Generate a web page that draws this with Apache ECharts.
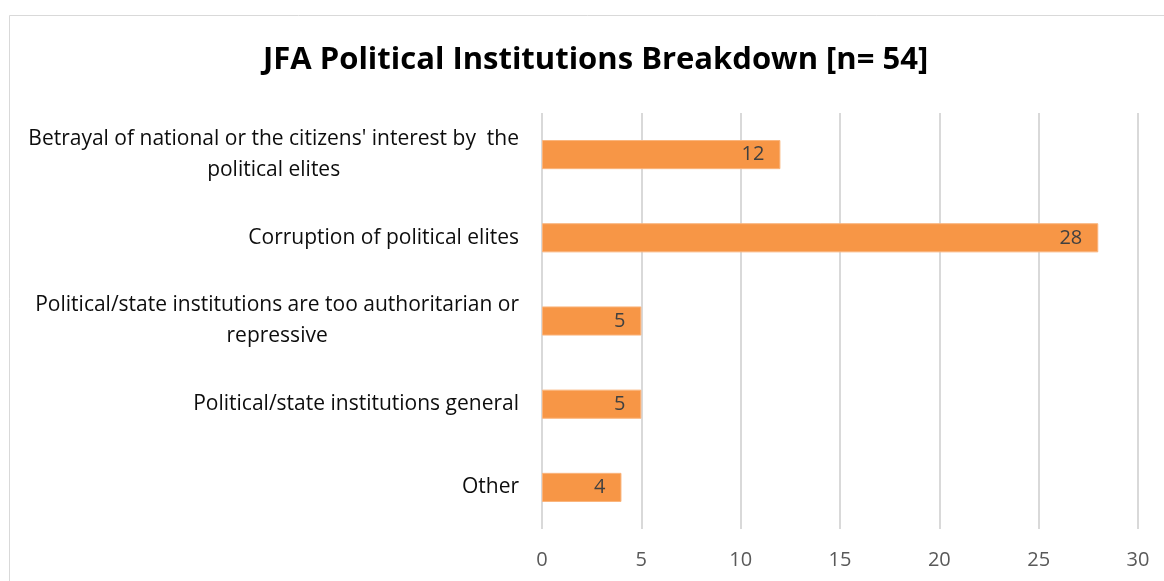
<!DOCTYPE html>
<html>
<head>
<meta charset="utf-8">
<script src="https://cdn.jsdelivr.net/npm/echarts@6/dist/echarts.min.js"></script>
<style>
  html, body { margin: 0; padding: 0; background: #fff; }
  #chart { width: 1164px; height: 581px; }
</style>
</head>
<body>
<div id="chart"></div>
<script>
// Reasons cited under "Political Institutions" (n = 54)
const categories = [
  "Betrayal of national or the citizens' interest by  the\npolitical elites",
  "Corruption of political elites",
  "Political/state institutions are too authoritarian or\nrepressive",
  "Political/state institutions general",
  "Other"
];
const counts = [12, 28, 5, 5, 4];
const xTicks = { min: 0, max: 30, step: 5 };

const font = "'Open Sans', 'Noto Sans', sans-serif";
const chart = echarts.init(document.getElementById('chart'), null, { renderer: 'canvas' });

chart.setOption({
  animation: false,
  backgroundColor: '#ffffff',
  graphic: [{
    type: 'rect',
    shape: { x: 9.5, y: 15.5, width: 1200, height: 620 },
    style: { fill: 'none', stroke: '#d9d9d9', lineWidth: 1 },
    silent: true
  }],
  title: {
    text: 'JFA Political Institutions Breakdown [n= 54]',
    left: 258,
    top: 40,
    textStyle: { fontFamily: font, fontSize: 31, fontWeight: 'bold', color: '#000000' }
  },
  grid: { left: 542, right: 26, top: 113, bottom: 52, containLabel: false },
  xAxis: {
    type: 'value',
    min: xTicks.min,
    max: xTicks.max,
    interval: xTicks.step,
    axisLine: { show: false },
    axisTick: { show: false },
    splitLine: { lineStyle: { color: '#d9d9d9', width: 2 } },
    axisLabel: { fontFamily: font, fontSize: 20, color: '#595959', margin: 21 }
  },
  yAxis: {
    type: 'category',
    inverse: true,
    data: categories,
    axisLine: { show: false },
    axisTick: { show: false },
    axisLabel: {
      margin: 23,
      align: 'right',
      // wrapped names: each line centred inside the right-aligned block
      formatter: v => v.split('\n').map(line => '{c|' + line + '}').join('\n'),
      rich: {
        c: {
          fontFamily: font, fontSize: 21, color: '#0d0d0d',
          lineHeight: 31, align: 'center'
        }
      }
    }
  },
  series: [{
    type: 'bar',
    data: counts,
    barWidth: '35%',
    itemStyle: { color: '#f79646', borderColor: '#fab47c', borderWidth: 1 },
    label: {
      show: true,
      position: 'insideRight',
      distance: 16,
      fontFamily: font,
      fontSize: 20,
      color: '#404040'
    }
  }]
});
</script>
</body>
</html>
